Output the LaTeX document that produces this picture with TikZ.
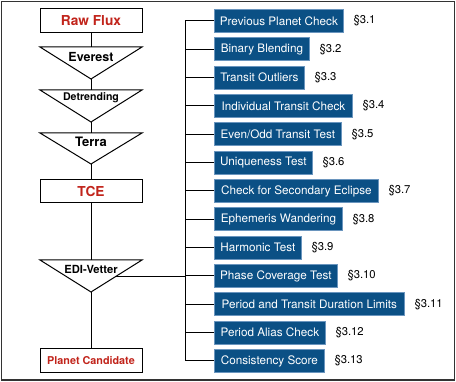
\documentclass[tikz,border=0pt]{standalone}
\usepackage{fontspec}
\setmainfont{TeX Gyre Heros}
\usetikzlibrary{calc}
\definecolor{boxblue}{HTML}{0B5085}
\definecolor{boxedge}{HTML}{6A95BE}
\definecolor{fluxred}{HTML}{C1241B}
\begin{document}
\begin{tikzpicture}[x=1pt,y=-1pt,
  tbox/.style={draw=boxedge, fill=boxblue, text=white, font=\fontsize{11.7}{13}\selectfont,
    minimum height=23pt, inner sep=0pt, anchor=west, line width=0.8pt},
  sec/.style={anchor=west, font=\fontsize{11.3}{13}\selectfont, inner sep=0pt, xshift=9.5pt},
  rbox/.style={draw, line width=1pt, minimum width=102pt, inner sep=0pt, text=fluxred},
  tri/.style={draw, line width=1pt, line join=miter},
  conn/.style={line width=1pt},
  lbl/.style={inner sep=0pt, font=\bfseries}
]
\useasboundingbox (0,0) rectangle (456,382);
\draw[line width=1.3pt, black!80] (1.5,1.5) rectangle (454.5,380);

% left column
\node[rbox, minimum height=24pt, font=\fontsize{13.7}{16}\selectfont\bfseries] (raw) at (91,21) {Raw Flux};

\coordinate (evL) at (40,47); \coordinate (evR) at (142,47); \coordinate (evA) at (91,79); \coordinate (evM) at (91,47);
\draw[tri] (evL) -- (evR) -- (evA) -- cycle;
\node[lbl, font=\fontsize{12.5}{14}\selectfont\bfseries] (evT) at (91,57) {Everest};

\coordinate (dtL) at (40,90); \coordinate (dtR) at (142,90); \coordinate (dtA) at (91,122); \coordinate (dtM) at (91,90);
\draw[tri] (dtL) -- (dtR) -- (dtA) -- cycle;
\node[lbl, font=\fontsize{10.6}{12}\selectfont\bfseries] (dtT) at (91,98) {Detrending};

\coordinate (trL) at (40,133); \coordinate (trR) at (142,133); \coordinate (trA) at (91,164); \coordinate (trM) at (91,133);
\draw[tri] (trL) -- (trR) -- (trA) -- cycle;
\node[lbl, font=\fontsize{13}{15}\selectfont\bfseries] (trT) at (91,142) {Terra};

\node[rbox, minimum height=23pt, font=\fontsize{13.7}{16}\selectfont\bfseries] (tce) at (91,191.5) {TCE};

\coordinate (edL) at (40,260); \coordinate (edR) at (142,260); \coordinate (edA) at (91,292); \coordinate (edM) at (91,260);
\draw[tri] (edL) -- (edR) -- (edA) -- cycle;
\node[lbl, font=\fontsize{11.2}{13}\selectfont\bfseries] (edT) at (91,269) {EDI-Vetter};

\node[rbox, minimum height=24pt, font=\fontsize{10.8}{12}\selectfont\bfseries] (pc) at (91,361) {Planet Candidate};

\draw[conn] (raw.south) -- (evM);
\draw[conn] (evA) -- (dtM);
\draw[conn] (dtA) -- (trM);
\draw[conn] (trA) -- (tce.north);
\draw[conn] (tce.south) -- (edM);
\draw[conn] (edA) -- (pc.north);

% right column
\node[tbox, minimum width=129pt] (b1) at (214,21) {Previous Planet Check};
\node[tbox, minimum width=95pt] (b2) at (214,49.33) {Binary Blending};
\node[tbox, minimum width=90pt] (b3) at (214,77.67) {Transit Outliers};
\node[tbox, minimum width=138pt] (b4) at (214,106) {Individual Transit Check};
\node[tbox, minimum width=127pt] (b5) at (214,134.33) {Even/Odd Transit Test};
\node[tbox, minimum width=98pt] (b6) at (214,162.67) {Uniqueness Test};
\node[tbox, minimum width=164pt] (b7) at (214,191) {Check for Secondary Eclipse};
\node[tbox, minimum width=128pt] (b8) at (214,219.33) {Ephemeris Wandering};
\node[tbox, minimum width=87pt] (b9) at (214,247.67) {Harmonic Test};
\node[tbox, minimum width=123pt] (b10) at (214,276) {Phase Coverage Test};
\node[tbox, minimum width=190pt] (b11) at (214,304.33) {Period and Transit Duration Limits};
\node[tbox, minimum width=111pt] (b12) at (214,332.67) {Period Alias Check};
\node[tbox, minimum width=110pt] (b13) at (214,361) {Consistency Score};

\foreach \i/\s in {1/3.1,2/3.2,3/3.3,4/3.4,5/3.5,6/3.6,7/3.7,8/3.8,9/3.9,10/3.10,11/3.11,12/3.12,13/3.13}{
  \node[sec] (s\i) at (b\i.east) {§\s};
}

\coordinate (busTop) at (185,21);
\coordinate (busBot) at (185,361);
\draw[conn] (b1.west) -- (busTop) -- (busBot) -- (b13.west);
\foreach \i in {2,...,12}{
  \draw[conn] (b\i.west) -- (b\i.west -| busTop);
}
\path (edR) -- (edA) coordinate[pos=0.53] (edX);
\draw[conn] (edX) -- (edX -| busTop);
\end{tikzpicture}
\end{document}
